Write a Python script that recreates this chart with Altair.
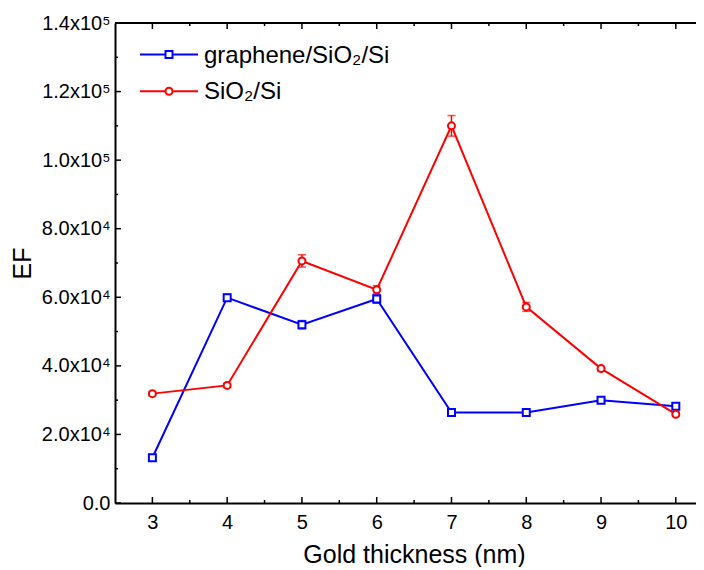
import altair as alt
import pandas as pd

# ---- data ----
thickness = [3, 4, 5, 6, 7, 8, 9, 10]
series_names = ["graphene/SiO₂/Si", "SiO₂/Si"]
ef_graphene = [13200, 59900, 52000, 59500, 26400, 26400, 30000, 28200]
err_graphene = [500, 1000, 1200, 1200, 400, 400, 500, 500]
ef_sio2 = [31900, 34300, 70600, 62200, 110000, 57200, 39200, 25900]
err_sio2 = [600, 600, 1800, 1200, 3000, 1300, 700, 600]

x_major = [3, 4, 5, 6, 7, 8, 9, 10]
x_minor = [3.5, 4.5, 5.5, 6.5, 7.5, 8.5, 9.5]
y_major = [0, 20000, 40000, 60000, 80000, 100000, 120000, 140000]
y_minor = [10000, 30000, 50000, 70000, 90000, 110000, 130000]

colors = ["#0000ff", "#ff0000"]
shapes = ["square", "circle"]

rows = []
for name, vals, errs in [(series_names[0], ef_graphene, err_graphene),
                         (series_names[1], ef_sio2, err_sio2)]:
    for t, v, e in zip(thickness, vals, errs):
        rows.append({"series": name, "thickness": t, "EF": v, "lo": v - e, "hi": v + e})
df = pd.DataFrame(rows)

W, H = 581, 480
FONT = "Liberation Sans"

xs = alt.Scale(domain=[2.5, 10.27], nice=False, zero=False)
ys = alt.Scale(domain=[0, 140000], nice=False, zero=False)
cs = alt.Scale(domain=series_names, range=colors)
ss = alt.Scale(domain=series_names, range=shapes)

y_label_expr = ("datum.value == 0 ? '0.0' : (datum.value >= 100000 ? "
                "format(datum.value/100000, '.1f') + 'x10⁵' : "
                "format(datum.value/10000, '.1f') + 'x10⁴')")

x_axis = alt.Axis(values=x_major, format="d", ticks=False, grid=False,
                  labelFontSize=20, labelFont=FONT, labelColor="black", labelPadding=9,
                  title="Gold thickness (nm)", titleFontSize=25, titleFont=FONT,
                  titleFontWeight="normal", titleColor="black",
                  titleX=299, titleY=59, titleBaseline="alphabetic",
                  domainColor="black", domainWidth=2)
y_axis = alt.Axis(values=y_major, labelExpr=y_label_expr, ticks=False, grid=False,
                  labelFontSize=20, labelFont=FONT, labelColor="black", labelPadding=5,
                  title="EF", titleFontSize=25, titleFont=FONT,
                  titleFontWeight="normal", titleColor="black",
                  titleX=-93, titleY=240, titleBaseline="middle", titleAlign="center",
                  domainColor="black", domainWidth=2)

def X(field):
    return alt.X(field, scale=xs, axis=x_axis, title="Gold thickness (nm)")

def Y(field):
    return alt.Y(field, scale=ys, axis=y_axis, title="EF")

base = alt.Chart(df)

color_enc = alt.Color("series:N", scale=cs, legend=None)

lines = base.mark_line(strokeWidth=2).encode(
    x=X("thickness:Q"), y=Y("EF:Q"), color=color_enc, detail="series:N",
)

err_rule = base.mark_rule(strokeWidth=1.5).encode(
    x=X("thickness:Q"), y=Y("lo:Q"), y2="hi:Q", color=color_enc,
)
err_lo = base.mark_tick(orient="horizontal", size=8, thickness=1.5).encode(
    x=X("thickness:Q"), y=Y("lo:Q"), color=color_enc,
)
err_hi = base.mark_tick(orient="horizontal", size=8, thickness=1.5).encode(
    x=X("thickness:Q"), y=Y("hi:Q"), color=color_enc,
)

points = base.mark_point(filled=False, fill="white", fillOpacity=1, strokeWidth=2,
                         opacity=1, size=49).encode(
    x=X("thickness:Q"), y=Y("EF:Q"), color=color_enc,
    shape=alt.Shape("series:N", scale=ss, legend=None),
)

# ---- inward ticks (frame) ----
xmaj = pd.DataFrame({"thickness": x_major})
xmin = pd.DataFrame({"thickness": x_minor})
ymaj = pd.DataFrame({"EF": y_major})
ymin = pd.DataFrame({"EF": y_minor})

def xticks(d, length):
    bottom = alt.Chart(d).mark_rule(color="black", strokeWidth=1.5).encode(
        x=X("thickness:Q"), y=alt.value(H), y2=alt.value(H - length))
    top = alt.Chart(d).mark_rule(color="black", strokeWidth=1.5).encode(
        x=X("thickness:Q"), y=alt.value(0), y2=alt.value(length))
    return [bottom, top]

def yticks(d, length):
    return [alt.Chart(d).mark_rule(color="black", strokeWidth=1.5).encode(
        y=Y("EF:Q"), x=alt.value(0), x2=alt.value(length))]

tick_layers = xticks(xmaj, 6) + xticks(xmin, 3) + yticks(ymaj, 6) + yticks(ymin, 3)

top_frame = alt.Chart(xmaj).mark_rule(color="black", strokeWidth=2).encode(
    x=alt.value(0), x2=alt.value(W), y=alt.value(0))

# ---- legend ----
legend_layers = []
leg_y = [31.6, 68.3]
leg_df = pd.DataFrame({"series": series_names})
for i, name in enumerate(series_names):
    d = leg_df[leg_df["series"] == name]
    legend_layers.append(alt.Chart(d).mark_rule(color=colors[i], strokeWidth=2).encode(
        x=alt.value(25), x2=alt.value(83), y=alt.value(leg_y[i])))
    legend_layers.append(alt.Chart(d).mark_point(
        shape=shapes[i], color=colors[i], filled=False, fill="white", fillOpacity=1,
        strokeWidth=2, opacity=1, size=49).encode(
        x=alt.value(54), y=alt.value(leg_y[i])))
    legend_layers.append(alt.Chart(d).mark_text(
        align="left", baseline="middle", fontSize=24, font=FONT, color="black").encode(
        x=alt.value(89), y=alt.value(leg_y[i] + 1), text="series:N"))

chart = alt.layer(
    lines, err_rule, err_lo, err_hi, points, top_frame, *tick_layers, *legend_layers
).properties(
    width=W, height=H,
    autosize=alt.AutoSizeParams(type="none"),
    padding={"left": 107, "top": 15, "right": 0, "bottom": 64},
).configure_view(stroke=None).configure(background="white")

chart.save("out.html", embed_options={"renderer": "svg", "actions": False})
